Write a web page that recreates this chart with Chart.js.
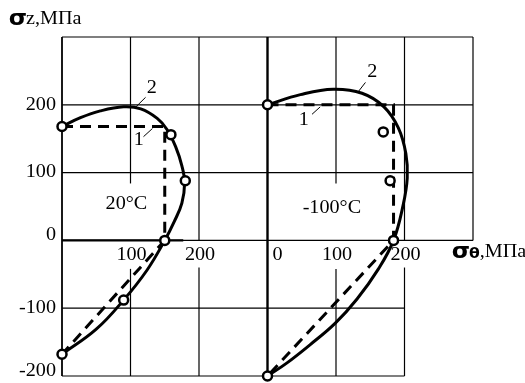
<!DOCTYPE html>
<html>
<head>
<meta charset="utf-8">
<script src="https://cdn.jsdelivr.net/npm/chart.js@4"></script>
<style>
  html, body { margin: 0; padding: 0; background: #fff; }
  canvas { display: block; }
</style>
</head>
<body>
<canvas id="yieldChart" width="525" height="383"></canvas>
<script>
// origin of the -100C diagram on the shared sigma-theta axis
const shift100 = 300;

// 20C: experiment, curve 1 (dashed), curve 2 (solid)
const theta20Exp = [0, 159, 180, 150, 90, 0];
const z20Exp = [168, 156, 88, 0, -88, -168];
const theta20Line1 = [0, 150, 150, 0];
const z20Line1 = [168, 168, 0, -168];
const theta20Line2 = [0, 27, 56, 90, 115, 139, 153, 166, 175, 179, 175, 164, 150, 124, 90, 50, 0];
const z20Line2 = [168, 181, 191, 197, 194, 180, 164, 138, 110, 85, 55, 28, 0, -44, -88, -131, -168];

// -100C
const theta100Exp = [0, 169, 179, 184, 0];
const z100Exp = [200, 160, 88, 0, -200];
const theta100Line1 = [0, 184, 184, 0];
const z100Line1 = [200, 200, 0, -200];
const theta100Line2 = [0, 48, 96, 138, 170, 191, 202, 204, 198, 184, 162, 131, 99, 62, 28, 0];
const z100Line2 = [200, 215, 223, 217, 197, 166, 128, 92, 52, 0, -42, -86, -122, -154, -181, -200];

// ticks
const yTicks = [200, 100, 0, -100, -200];
const xTickValues = [100, 200, 300, 400, 500];
const xTickLabels = ['100', '200', '0', '100', '200'];

function pts(thetas, zs, offset) {
    return thetas.map((t, i) => ({ x: t + offset, y: zs[i] }));
}

const serif = '"Liberation Serif", "Times New Roman", serif';
const stretch = 1.12;

function txt(ctx, s, px, py, font, align) {
    ctx.save();
    ctx.font = font;
    ctx.textAlign = align;
    ctx.textBaseline = 'middle';
    ctx.translate(px, py);
    ctx.scale(stretch, 1);
    ctx.fillText(s, 0, 0);
    ctx.restore();
}

function txtWidth(ctx, s, font) {
    ctx.save();
    ctx.font = font;
    const w = ctx.measureText(s).width * stretch;
    ctx.restore();
    return w;
}

const decor = {
    id: 'decor',
    beforeDatasetsDraw(chart) {
        const { ctx, scales: { x, y } } = chart;
        const X = v => x.getPixelForValue(v);
        const Y = v => y.getPixelForValue(v);
        ctx.save();
        ctx.strokeStyle = '#000';
        ctx.fillStyle = '#000';
        ctx.lineCap = 'butt';

        function seg(x1, y1, x2, y2, w) {
            ctx.lineWidth = w;
            ctx.beginPath();
            ctx.moveTo(X(x1), Y(y1));
            ctx.lineTo(X(x2), Y(y2));
            ctx.stroke();
        }

        // grid, broken where the labels sit
        const thin = 1.2;
        seg(0, 300, 600, 300, thin);
        seg(0, 200, 600, 200, thin);
        seg(0, 100, 600, 100, thin);
        seg(0, 0, 600, 0, thin);
        seg(0, 0, 177, 0, 2.4);
        seg(0, -100, 500, -100, thin);
        seg(0, -200, 500, -200, thin);

        seg(0, -200, 0, 300, 1.8);
        seg(100, 300, 100, 84, thin);
        seg(100, -42, 100, -200, thin);
        seg(200, 300, 200, 0, thin);
        seg(200, -40, 200, -200, thin);
        seg(300, -200, 300, 300, 2.4);
        seg(400, 300, 400, 84, thin);
        seg(400, -42, 400, -200, thin);
        seg(500, 300, 500, 0, thin);
        seg(500, -40, 500, -200, thin);
        seg(600, 300, 600, 0, thin);

        const f = '18px ' + serif;
        // y tick labels
        yTicks.forEach(v => {
            const dy = (v === 0 || v === -200) ? -5 : 0;
            txt(ctx, String(v), x.left - 6, Y(v) + dy, f, 'right');
        });
        // x tick labels
        xTickValues.forEach((v, i) => {
            const dx = xTickLabels[i] === '0' ? 10 : 1;
            txt(ctx, xTickLabels[i], X(v) + dx, Y(0) + 15, f, 'center');
        });

        // diagram labels
        txt(ctx, '20°C', X(94), Y(53), f, 'center');
        txt(ctx, '-100°C', X(394), Y(48), f, 'center');

        // curve numbers with leaders
        txt(ctx, '2', X(131), Y(224), f, 'center');
        txt(ctx, '1', X(112), Y(147), f, 'center');
        txt(ctx, '2', X(453), Y(248), f, 'center');
        txt(ctx, '1', X(353), Y(177), f, 'center');
        seg(122, 211, 108, 197, 1);
        seg(119, 153, 132, 165, 1);
        seg(443, 233, 433, 220, 1);
        seg(365, 186, 377, 197, 1);

        // axis titles
        const sig = 'bold 21px "DejaVu Sans", sans-serif';
        txt(ctx, 'σ', 10 + 8, 20, sig, 'center');
        txt(ctx, 'z,МПа', 26, 19, f, 'left');

        const tx = 453;
        txt(ctx, 'σ', tx + 8, 253, sig, 'center');
        const th = 'bold 14px "DejaVu Sans", sans-serif';
        txt(ctx, 'θ', tx + 16, 254, th, 'left');
        txt(ctx, ',МПа', tx + 16 + txtWidth(ctx, 'θ', th), 252, f, 'left');

        ctx.restore();
    }
};

const solid = { borderColor: '#000', borderWidth: 3, pointRadius: 0, showLine: true, tension: 0.4, clip: false };
const dashed = { borderColor: '#000', borderWidth: 3, borderDash: [11, 7], pointRadius: 0, showLine: true, tension: 0, clip: false };
const dots = { showLine: false, pointRadius: 4.5, pointBorderWidth: 2.5, pointBorderColor: '#000', pointBackgroundColor: '#fff', clip: false };

const ctx = document.getElementById('yieldChart').getContext('2d');
const chart = new Chart(ctx, {
    type: 'scatter',
    data: {
        datasets: [
            Object.assign({ label: 'exp 20', data: pts(theta20Exp, z20Exp, 0) }, dots),
            Object.assign({ label: 'exp -100', data: pts(theta100Exp, z100Exp, shift100) }, dots),
            Object.assign({ label: '2 (20)', data: pts(theta20Line2, z20Line2, 0) }, solid),
            Object.assign({ label: '2 (-100)', data: pts(theta100Line2, z100Line2, shift100) }, solid),
            Object.assign({ label: '1 (20)', data: pts(theta20Line1, z20Line1, 0) }, dashed),
            Object.assign({ label: '1 (-100)', data: pts(theta100Line1, z100Line1, shift100) }, dashed)
        ]
    },
    options: {
        responsive: false,
        animation: false,
        layout: { padding: { left: 62, right: 52, top: 37, bottom: 3 } },
        scales: {
            x: { type: 'linear', min: 0, max: 600, display: false },
            y: { type: 'linear', min: -200, max: 300, display: false }
        },
        plugins: {
            legend: { display: false },
            tooltip: { enabled: false }
        }
    },
    plugins: [decor]
});
</script>
</body>
</html>
